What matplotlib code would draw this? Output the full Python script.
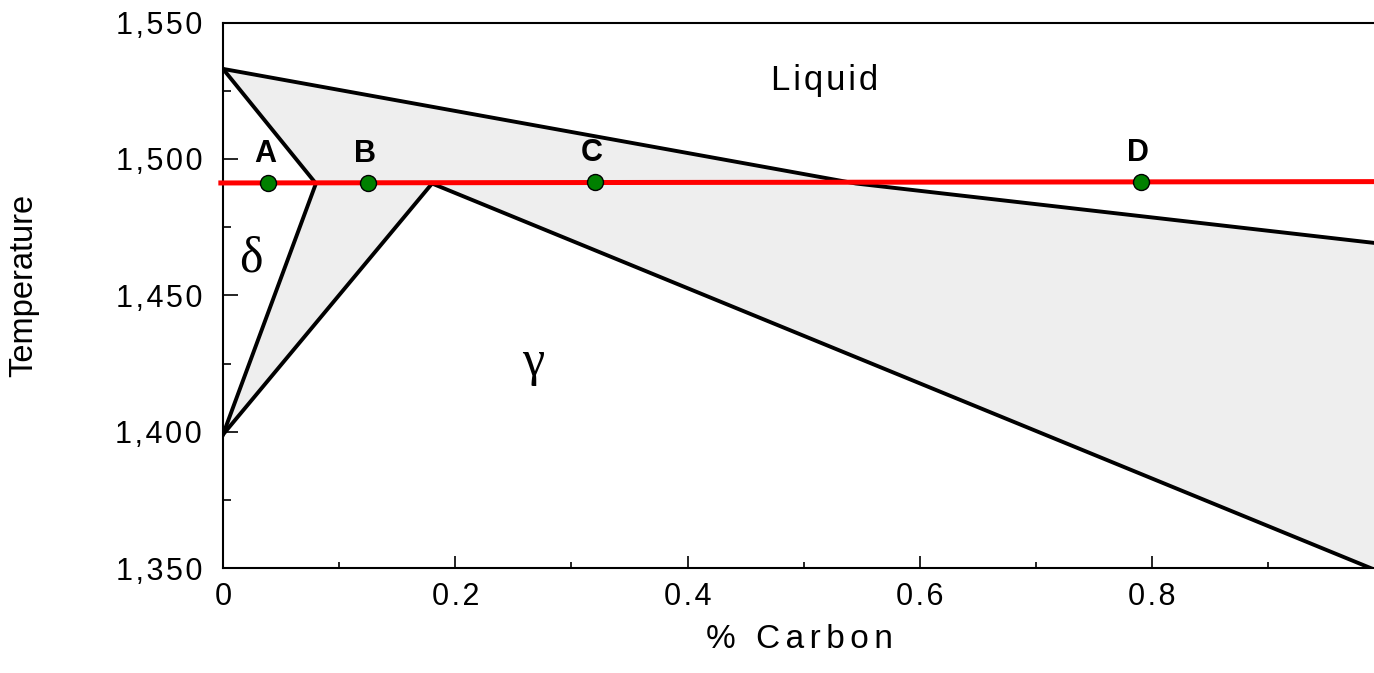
import matplotlib
matplotlib.use("Agg")
import matplotlib.pyplot as plt
from matplotlib.ticker import FixedLocator, FuncFormatter

plt.rcParams['font.family'] = ['Liberation Sans', 'DejaVu Sans']

# phase boundaries (wt% C, deg C)
delta_x = [0.0, 0.08, 0.0]
delta_t = [1533, 1491, 1399]
gamma_x = [0.0, 0.18]
gamma_t = [1399, 1491]
liquidus_x = [0.0, 0.545, 1.0]
liquidus_t = [1533, 1491, 1468.8]
solidus_x = [0.18, 1.0]
solidus_t = [1491, 1348]

# isotherm and the four alloys on it
iso_x = [-0.004, 1.0]
iso_t = [1491.2, 1491.7]
alloy_names = ['A', 'B', 'C', 'D']
alloy_x = [0.039, 0.125, 0.32, 0.79]
alloy_t = [1491.3, 1491.3, 1491.4, 1491.6]

x_major = [0, 0.2, 0.4, 0.6, 0.8]
x_minor = [0.1, 0.3, 0.5, 0.7, 0.9]
y_major = [1350, 1400, 1450, 1500, 1550]
y_minor = [1375, 1425, 1475, 1525]

HAIR = '\u200a'


def spaced(s, sep=HAIR):
    return sep.join(s)


W, H = 1374, 673
fig = plt.figure(figsize=(W / 100, H / 100), dpi=100)
ax = fig.add_axes([223 / W, (H - 568.3) / H, 1161.5 / W, 545.8 / H])
ax.set_xlim(0, 1.0)
ax.set_ylim(1350, 1550)

# two-phase regions, shaded
fill_x = liquidus_x + [1.0] + solidus_x[::-1] + [0.0, 0.08, 0.0]
fill_t = liquidus_t + [solidus_t[-1]] + solidus_t[::-1] + [1399, 1491, 1533]
ax.fill(fill_x, fill_t, facecolor='#eeeeee', edgecolor='none', zorder=1)

lw = 2.8
ax.plot(delta_x, delta_t, color='black', lw=lw, zorder=3)
ax.plot(gamma_x, gamma_t, color='black', lw=lw, zorder=3)
ax.plot(liquidus_x, liquidus_t, color='black', lw=lw, zorder=3)
ax.plot(solidus_x, solidus_t, color='black', lw=lw, zorder=3)

ax.plot(iso_x, iso_t, color='#ff0000', lw=3.6, zorder=4, clip_on=False,
        solid_capstyle='butt')
ax.plot(alloy_x, alloy_t, 'o', ms=11.5, mfc='#008000', mec='black', mew=1.0,
        zorder=5, clip_on=False)
for name, x, t in zip(alloy_names, alloy_x, alloy_t):
    ax.annotate(name, (x, t), xytext=(-2, 21), textcoords='offset points',
                ha='center', va='center', fontsize=22, fontweight='bold')

ax.text(0.518, 1525.3, spaced('Liquid'), fontsize=25, ha='center',
        va='baseline')
ax.text(0.024, 1463.3, '\u03b4', fontsize=36, family=['Liberation Serif'],
        ha='center', va='center')
ax.text(0.267, 1425.3, '\u03b3', fontsize=36, family=['Liberation Serif'],
        ha='center', va='center')

# axes frame
for side in ['left', 'bottom', 'top', 'right']:
    ax.spines[side].set_linewidth(1.5)

ax.xaxis.set_major_locator(FixedLocator(x_major))
ax.xaxis.set_minor_locator(FixedLocator(x_minor))
ax.yaxis.set_major_locator(FixedLocator(y_major))
ax.yaxis.set_minor_locator(FixedLocator(y_minor))
ax.xaxis.set_major_formatter(FuncFormatter(
    lambda v, p: '0' if v == 0 else spaced(f'{v:.1f}')))
ax.yaxis.set_major_formatter(FuncFormatter(lambda v, p: spaced(f'{v:,.0f}')))

ax.tick_params(axis='both', which='both', direction='in', width=1.2,
               top=False, right=False)
ax.tick_params(axis='x', which='major', length=9, labelsize=22, pad=10)
ax.tick_params(axis='x', which='minor', length=4.5)
ax.tick_params(axis='y', which='major', length=11, labelsize=22, pad=15)
ax.tick_params(axis='y', which='minor', length=6)

fig.text(24 / W, 1 - 285 / H, 'Temperature', rotation=90, fontsize=23.5,
         ha='center', va='center')
fig.text(799 / W, 1 - 648 / H, spaced('% Carbon', HAIR * 2), fontsize=24,
         ha='center', va='baseline')

fig.savefig('out.png', dpi=100)
